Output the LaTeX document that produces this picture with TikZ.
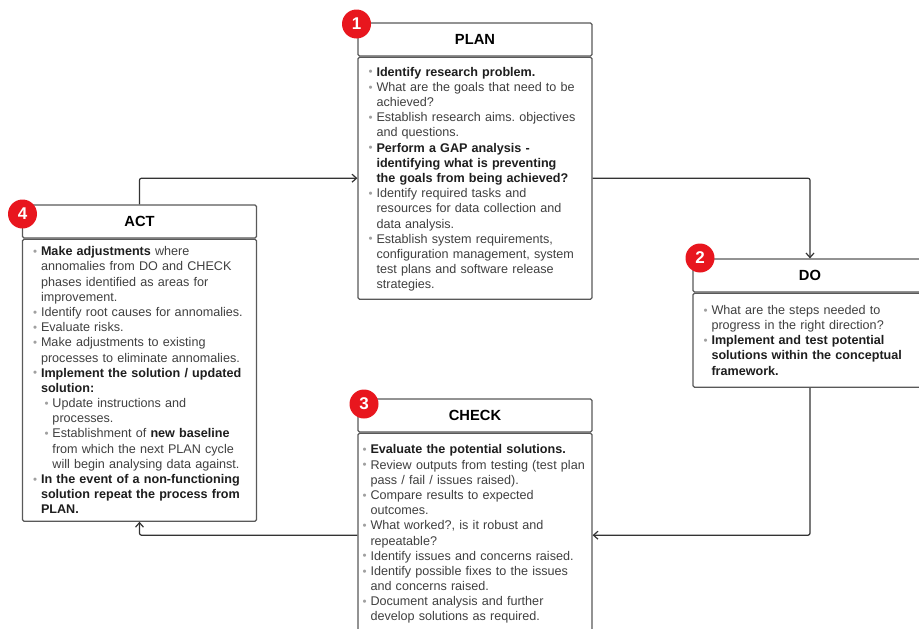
\documentclass[tikz,border=0pt]{standalone}
\usepackage{fontspec}
\setmainfont{Liberation Sans}
\usetikzlibrary{positioning,arrows.meta}

\definecolor{pdcaRed}{HTML}{E8161E}
\definecolor{boxLine}{HTML}{595959}
\definecolor{bodyText}{HTML}{404040}
\definecolor{boldText}{HTML}{1E1E1E}
\definecolor{bulletGray}{HTML}{A0A0A0}
\definecolor{flowLine}{HTML}{333333}

\newcommand{\bul}{\raisebox{0.3pt}{\color{bulletGray}\fontsize{11.5}{11.5}\selectfont\textbullet}}
\newcommand{\hi}[1]{{\color{boldText}\bfseries #1}}
\newcommand{\pitem}[1]{\par\hangindent=7.5pt\hangafter=1\noindent\makebox[7.5pt][l]{\hspace*{-0.5pt}\bul}#1\par}
\newcommand{\pitemsub}[1]{\par\hangindent=19pt\hangafter=1\noindent\hspace*{11.5pt}\makebox[7.5pt][l]{\hspace*{-0.5pt}\bul}#1\par}
\newcommand{\bodyend}[1]{\par\vspace*{#1}}

\tikzset{
  phasehead/.style={draw=boxLine, line width=1.2pt, rounded corners=1.5pt, fill=white,
    minimum width=234pt, minimum height=33pt, inner sep=0pt,
    font=\fontsize{14.7}{17}\selectfont\bfseries, text=black},
  phasebody/.style={draw=boxLine, line width=1.2pt, rounded corners=1.5pt, fill=white,
    text width=234pt, inner xsep=0pt, inner ysep=0pt, align=left,
    font=\fontsize{12.6}{15.18}\selectfont\frenchspacing, text=bodyText},
  badge/.style={circle, fill=pdcaRed, minimum size=29pt, inner sep=0pt,
    text=white, font=\fontsize{17}{17}\selectfont\bfseries},
  flow/.style={draw=flowLine, line width=1.2pt, rounded corners=2pt,
    -{Straight Barb[length=4.5pt,width=8pt]}},
}

\begin{document}
\begin{tikzpicture}[x=1pt,y=-1pt]
	\useasboundingbox (0,0) rectangle (919,629);
	\clip (0,0) rectangle (919,629);

	% PLAN
	\node[phasehead] (planhead) at (475,39.5) {PLAN};
	\node[phasebody, minimum height=242pt, below=0pt of planhead] (planbody) {\leftskip=11pt
		\pitem{\hi{Identify research problem.}}
		\pitem{What are the goals that need to be\newline achieved?}
		\pitem{Establish research aims. objectives\newline and questions.}
		\pitem{\hi{Perform a GAP analysis -\newline identifying what is preventing\newline the goals from being achieved?}}
		\pitem{Identify required tasks and\newline resources for data collection and\newline data analysis.}
		\pitem{Establish system requirements,\newline configuration management, system\newline test plans and software release\newline strategies.}
		\bodyend{4pt}};

	% DO
	\node[phasehead] (dohead) at (810,275.5) {DO};
	\node[phasebody, minimum height=94pt, below=0pt of dohead] (dobody) {\leftskip=11pt
		\pitem{What are the steps needed to\newline progress in the right direction?}
		\pitem{\hi{Implement and test potential\newline solutions within the conceptual\newline framework.}}
		\bodyend{6pt}};

	% CHECK
	\node[phasehead] (checkhead) at (475,415.5) {CHECK};
	\node[phasebody, minimum height=204pt, below=0pt of checkhead] (checkbody) {\leftskip=5pt
		\pitem{\hi{Evaluate the potential solutions.}}
		\pitem{Review outputs from testing (test plan\newline pass / fail / issues raised).}
		\pitem{Compare results to expected\newline outcomes.}
		\pitem{What worked?, is it robust and\newline repeatable?}
		\pitem{Identify issues and concerns raised.}
		\pitem{Identify possible fixes to the issues\newline and concerns raised.}
		\pitem{Document analysis and further\newline develop solutions as required.}
		\bodyend{8pt}};

	% ACT
	\node[phasehead] (acthead) at (139.5,221.5) {ACT};
	\node[phasebody, minimum height=282pt, below=0pt of acthead] (actbody) {\leftskip=11pt
		\pitem{\hi{Make adjustments} where\newline annomalies from DO and CHECK\newline phases identified as areas for\newline improvement.}
		\pitem{Identify root causes for annomalies.}
		\pitem{Evaluate risks.}
		\pitem{Make adjustments to existing\newline processes to eliminate annomalies.}
		\pitem{\hi{Implement the solution / updated\newline solution:}}
		\pitemsub{Update instructions and\newline processes.}
		\pitemsub{Establishment of \hi{new baseline}\newline from which the next PLAN cycle\newline will begin analysing data against.}
		\pitem{\hi{In the event of a non-functioning\newline solution repeat the process from\newline PLAN.}}
		\bodyend{6pt}};

	% cycle
	\draw[flow] (acthead.north) |- (planbody.west);
	\draw[flow] (planbody.east) -| (dohead.north);
	\draw[flow] (dobody.south) |- (checkbody.east);
	\draw[flow] (checkbody.west) -| (actbody.south);

	% numbers
	\node[badge] (b1) at (356.5,24) {1};
	\node[badge] (b2) at (700,258) {2};
	\node[badge] (b3) at (364,404) {3};
	\node[badge] (b4) at (22.5,214) {4};
\end{tikzpicture}
\end{document}
